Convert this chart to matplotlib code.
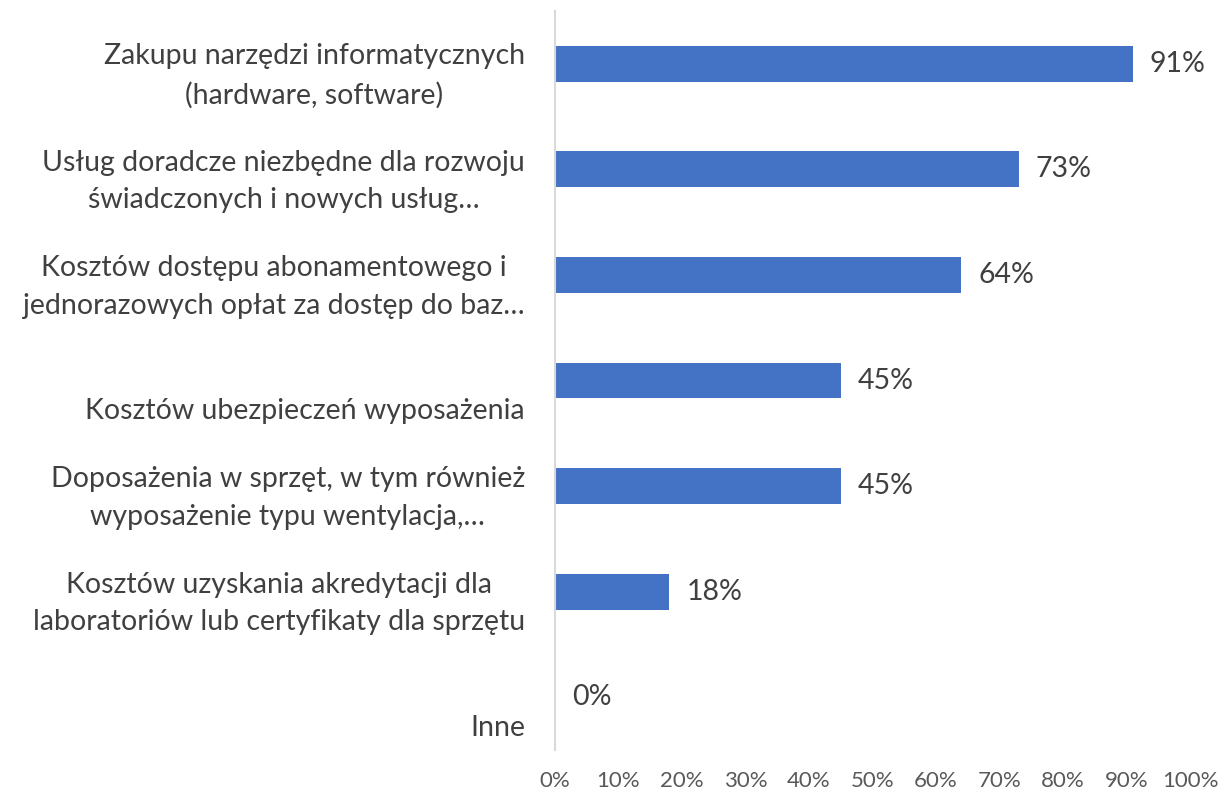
import matplotlib
matplotlib.use("Agg")
import matplotlib.pyplot as plt
from matplotlib.ticker import FuncFormatter
import matplotlib.transforms as mtrans

categories = [
    "Zakupu narzędzi informatycznych\n(hardware, software)",
    "Usług doradcze niezbędne dla rozwoju\nświadczonych i nowych usług…",
    "Kosztów dostępu abonamentowego i\njednorazowych opłat za dostęp do baz…",
    "Kosztów ubezpieczeń wyposażenia",
    "Doposażenia w sprzęt, w tym również\nwyposażenie typu wentylacja,…",
    "Kosztów uzyskania akredytacji dla\nlaboratoriów lub certyfikaty dla sprzętu",
    "Inne",
]
values = [91, 73, 64, 45, 45, 18, 0]
value_labels = ["91%", "73%", "64%", "45%", "45%", "18%", "0%"]
xticks = list(range(0, 101, 10))

plt.rcParams['font.family'] = ['Lato', 'DejaVu Sans']

fig = plt.figure(figsize=(12.23, 7.92), dpi=100)
ax = fig.add_axes([555/1223, 1 - 750/792, (1190 - 555)/1223, (750 - 11)/792])

n = len(categories)
ypos = list(range(n))
ax.barh(ypos, values, height=0.34, color="#4472C4")
ax.set_ylim(n - 0.5, -0.5)
ax.set_xlim(0, 100)
ax.set_xticks(xticks)
ax.xaxis.set_major_formatter(FuncFormatter(lambda v, p: f"{int(v)}%"))
ax.tick_params(axis='x', length=0, pad=15, labelsize=16, labelcolor="#595959")
ax.set_yticks([])
for s in ["top", "right", "bottom"]:
    ax.spines[s].set_visible(False)
ax.spines["left"].set_color("#D9D9D9")
ax.spines["left"].set_linewidth(1.5)

text_color = "#404040"
trans = mtrans.blended_transform_factory(ax.transAxes, ax.transData)
for i, (cat, v, lab) in enumerate(zip(categories, values, value_labels)):
    txt = cat if "\n" in cat else "\n" + cat
    t = mtrans.offset_copy(trans, fig=fig, x=-30, y=-12, units='dots')
    ax.text(0, i, txt, transform=t, ha='right', va='center', fontsize=20.5,
            color=text_color, linespacing=1.55, multialignment='center')
    tv = mtrans.offset_copy(ax.transData, fig=fig, x=17, y=0, units='dots')
    ax.text(v, i, lab, transform=tv, ha='left', va='center', fontsize=20.5,
            color=text_color)

fig.savefig("out.png", dpi=100)
